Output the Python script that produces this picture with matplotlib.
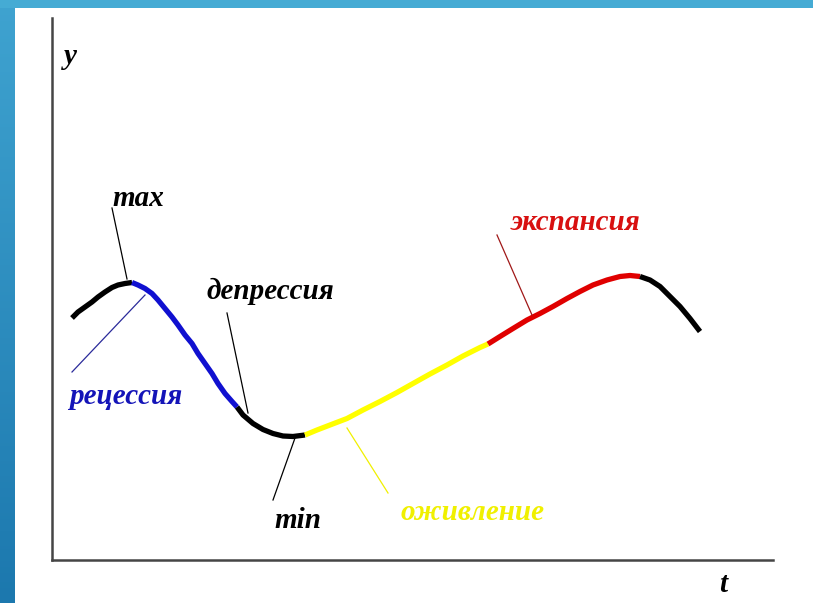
import numpy as np
import matplotlib
matplotlib.use("Agg")
import matplotlib.pyplot as plt

# curve, split by phase (t, y)
rise_t = [20, 26, 33, 40, 46, 53, 60, 66, 73, 80]
rise_y = [242, 248, 253, 258, 263, 268, 272.5, 275, 276.5, 277.5]
recession_t = [80, 86, 93, 100, 106, 113, 120, 126, 133, 140, 146, 153, 160, 166, 173, 180, 185]
recession_y = [277.5, 275, 271.5, 266.5, 260, 251.5, 243, 235, 225, 216.5, 206.5, 196.5,
               186.5, 176.5, 166.5, 158.5, 153]
depression_t = [185, 191, 201, 211, 221, 231, 241, 253]
depression_y = [153, 145, 136.5, 130.5, 126.5, 124, 123.5, 125]
revival_t = [253, 265, 278, 295, 311, 328, 345, 361, 378, 395, 411, 428, 436]
revival_y = [125, 130, 135, 141.5, 150, 158.5, 167.5, 176.5, 186, 195, 204, 212.5, 216]
expansion_t = [436, 448, 461, 475, 488, 501, 515, 528, 541, 555, 568, 578, 588]
expansion_y = [216, 223.5, 231.5, 240, 246.5, 253.5, 261.5, 268.5, 275, 280, 283.5, 284.5, 283.5]
fall_t = [588, 598, 608, 618, 628, 638, 648]
fall_y = [283.5, 280, 273.5, 263.5, 253.5, 241.5, 228.5]

# annotation labels: text, text position, leader start/end, colours
labels = ["max", "рецессия", "депрессия", "min", "оживление", "экспансия"]
label_xy = [(86, 361), (74, 164), (218, 269), (246, 39), (421, 47), (524, 337)]
leader_from = [(60, 352), (20, 188), (175, 247), (221, 60), (295, 132), (445, 325)]
leader_to = [(75, 281), (93, 265), (196, 147), (243, 122), (336, 67), (480, 245)]
label_colors = ["black", "#1414b8", "black", "black", "#f0f000", "#d81010"]
leader_colors = ["black", "#2a2a9a", "black", "black", "#f0f000", "#a01818"]

FONT = dict(family="Liberation Serif", weight="bold", style="italic")
FS = 21

fig = plt.figure(figsize=(8.13, 6.03), dpi=100, facecolor="white")

# slide decoration: blue top strip and gradient left strip
bg = fig.add_axes([0, 0, 1, 1])
bg.set_xlim(0, 813)
bg.set_ylim(603, 0)
bg.axis("off")
grad = np.linspace(0, 1, 200)[:, None]
cmap = matplotlib.colors.LinearSegmentedColormap.from_list("band", ["#3fa3d0", "#1c78ae"])
bg.imshow(grad, cmap=cmap, extent=[0, 14, 603, 0], aspect="auto")
bg.add_patch(plt.Rectangle((0, 0), 813, 8, color="#45abd4", lw=0))

ax = fig.add_axes([52 / 813, 43 / 603, 721 / 813, 542 / 603])
ax.set_xlim(0, 721)
ax.set_ylim(0, 542)
ax.patch.set_alpha(0)
for s in ("top", "right"):
    ax.spines[s].set_visible(False)
for s in ("left", "bottom"):
    ax.spines[s].set_color("#454545")
    ax.spines[s].set_linewidth(1.8)
ax.set_xticks([])
ax.set_yticks([])

segs = [(rise_t, rise_y, "black"), (recession_t, recession_y, "#1010d0"),
        (depression_t, depression_y, "black"), (revival_t, revival_y, "#ffff00"),
        (expansion_t, expansion_y, "#e00000"), (fall_t, fall_y, "black")]
for t, y, c in segs:
    ax.plot(t, y, color=c, lw=3.8, solid_capstyle="butt", solid_joinstyle="round")

for txt, xy, p0, p1, tc, lc in zip(labels, label_xy, leader_from, leader_to,
                                   label_colors, leader_colors):
    ax.plot([p0[0], p1[0]], [p0[1], p1[1]], color=lc, lw=0.9)
    ax.text(xy[0], xy[1], txt, color=tc, fontsize=FS, ha="center", va="center", **FONT)

ax.text(18, 504, "y", fontsize=FS, ha="center", va="center", **FONT)
ax.text(671, -25, "t", fontsize=FS, ha="center", va="center", clip_on=False, **FONT)

fig.savefig("out.png", dpi=100, facecolor="white")
